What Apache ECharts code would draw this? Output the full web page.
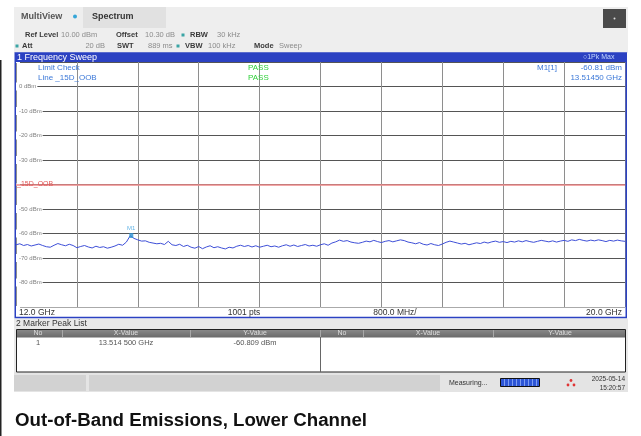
<!DOCTYPE html>
<html><head><meta charset="utf-8">
<script src="https://cdn.jsdelivr.net/npm/echarts@6/dist/echarts.min.js"></script>
<style>html,body{margin:0;padding:0;background:#fff}#c{width:641px;height:436px}</style>
</head><body><div id="c"></div>
<script>
// ---- data ----
const freqStartGHz = 12.0;
const freqStopGHz = 20.0;
const freqStepGHz = 0.05;
const freqDivGHz = 0.8;
const yTickValues = [0, -10, -20, -30, -40, -50, -60, -70, -80];
const traceLevels = [
  -64.6, -64.2, -64.9, -64.5, -65.1, -64.7, -64.3, -64.9,
  -65.4, -65.6, -64.8, -64.1, -64.6, -65.0, -64.4, -64.9,
  -65.8, -65.3, -64.9, -65.5, -65.9, -65.2, -65.7, -65.4,
  -66.0, -65.6, -65.1, -64.4, -64.8, -63.5,
  -60.9,
  -62.0, -62.6, -63.1, -63.0, -63.6, -63.9, -64.2, -64.0, -64.5,
  -63.2,
  -64.6, -64.9, -64.4, -65.3, -64.8, -65.6, -66.0, -65.3, -66.2,
  -65.5, -65.0, -65.8, -65.4, -65.9, -66.3, -65.6, -65.9, -65.2, -64.8,
  -65.3, -64.9, -65.5, -65.0, -65.6, -65.2, -64.8, -65.4, -65.1, -65.6,
  -65.0, -64.6, -65.2, -64.7, -65.3, -64.9, -64.5, -65.1, -64.8, -65.2,
  -64.6, -64.2, -64.8, -63.9, -63.4, -62.7, -63.2, -62.9, -63.5, -63.8,
  -64.0, -63.6, -63.1, -63.4, -62.8, -63.3, -63.7, -63.2, -62.9, -63.4,
  -63.0, -62.6, -62.9, -63.5, -63.8, -64.2, -63.7, -64.4, -64.7, -64.1,
  -64.6, -64.9, -64.3, -63.6, -63.1, -63.5, -63.9, -64.3, -64.0, -64.6,
  -64.2, -63.8, -64.1, -63.5, -63.9, -63.4, -63.1, -63.6, -63.3, -63.7,
  -63.2, -63.5, -63.0, -63.4, -62.9, -63.3, -63.6, -63.2, -62.8, -63.1,
  -63.4, -63.0, -63.5, -63.1, -62.8, -63.2, -62.6, -62.9, -62.4, -62.8,
  -63.1, -62.7, -63.0, -62.6, -62.9, -63.3, -62.8, -63.1, -62.7, -63.0, -63.2
];
const markerFreqGHz = 13.5145;
const markerLevelDbm = -60.81;
const limitLevelDbm = -40;
const limitName = '_15D_OOB';
const captionText = 'Out-of-Band Emissions, Lower Channel';

// ---- build ----
const traceData = traceLevels.map((v, i) => [freqStartGHz + i * freqStepGHz, v]);
const chart = echarts.init(document.getElementById('c'), null, {renderer: 'canvas'});

const UI = 'Liberation Sans, Arial, sans-serif';
const els = [];
function R(x, y, w, h, fill, z, extra) {
  els.push(Object.assign({type: 'rect', shape: {x, y, width: w, height: h}, style: {fill}, z: z === undefined ? -10 : z, silent: true}, extra || {}));
}
function T(x, y, text, o) {
  o = o || {};
  els.push({type: 'text', x, y, z: o.z === undefined ? 100 : o.z, silent: true,
    style: {text, fill: o.color || '#333', font: (o.bold ? 'bold ' : '') + (o.size || 7.5) + 'px ' + (o.family || UI),
      textAlign: o.align || 'left', textVerticalAlign: 'middle'}});
}
function L(x1, y1, x2, y2, color, w, z) {
  els.push({type: 'line', shape: {x1, y1, x2, y2}, style: {stroke: color, lineWidth: w || 1}, z: z === undefined ? 60 : z, silent: true});
}
function C(cx, cy, r, color, z) {
  els.push({type: 'circle', shape: {cx, cy, r}, style: {fill: color}, z: z === undefined ? 100 : z, silent: true});
}

// left dark edge
L(0.75, 60, 0.75, 436, '#222', 1.5, -5);
// top header region
R(14, 7, 614, 46, '#eeeeee');
R(83, 7, 83, 21, '#e1e1e1', -9);
T(21, 17, 'MultiView', {bold: true, size: 9, color: '#555'});
C(75, 16.5, 2, '#35a6d8');
T(92, 17, 'Spectrum', {bold: true, size: 9, color: '#333'});
R(603, 9, 23, 19, '#4a4a4a', -9);
C(614.5, 18.5, 1, '#ddd');
// row 1
const lab = {bold: true, color: '#3a3a3a', size: 7.5};
const val = {color: '#8c8c8c', size: 7.5};
T(25, 35, 'Ref Level', lab); T(61, 35, '10.00 dBm', val);
T(116, 35, 'Offset', lab); T(145, 35, '10.30 dB', val);
R(181.5, 33.5, 3, 3, '#3aa5a5', 100);
T(190, 35, 'RBW', lab); T(217, 35, '30 kHz', val);
// row 2
R(15.5, 44.5, 3, 3, '#3aa5a5', 100);
T(22, 46, 'Att', lab); T(105, 46, '20 dB', Object.assign({align: 'right'}, val));
T(117, 46, 'SWT', lab); T(148, 46, '889 ms', val);
R(176.5, 44.5, 3, 3, '#3aa5a5', 100);
T(185, 46, 'VBW', lab); T(208, 46, '100 kHz', val);
T(254, 46, 'Mode', lab); T(279, 46, 'Sweep', val);

// blue window title bar
R(15, 53, 612, 9, '#2b41c2', 40);
T(17, 57.5, '1 Frequency Sweep', {color: '#ffffff', size: 9});
T(583, 57.5, '\u25CB1Pk Max', {color: '#c4d8ff', size: 7});
// overlay texts in plot
const blue = '#3b78d8';
T(38, 67.5, 'Limit Check', {color: blue, size: 8});
T(38, 77.5, 'Line ' + limitName, {color: blue, size: 8});
T(248, 67.5, 'PASS', {color: '#2fd13a', size: 8});
T(248, 77.5, 'PASS', {color: '#2fd13a', size: 8});
T(537, 68, 'M1[1]', {color: blue, size: 8});
T(622, 68, markerLevelDbm.toFixed(2) + ' dBm', {color: blue, size: 8, align: 'right'});
T(622, 78, markerFreqGHz.toFixed(5) + ' GHz', {color: blue, size: 8, align: 'right'});

// frequency label row
R(15.5, 307.6, 610, 9.5, '#ffffff', 45);
T(19, 312.5, freqStartGHz.toFixed(1) + ' GHz', {size: 8.5, color: '#333'});
T(244, 312.5, '1001 pts', {size: 8.5, color: '#333', align: 'center'});
T(395, 312.5, (freqDivGHz * 1000).toFixed(1) + ' MHz/', {size: 8.5, color: '#333', align: 'center'});
T(622, 312.5, freqStopGHz.toFixed(1) + ' GHz', {size: 8.5, color: '#333', align: 'right'});
// window frame
els.push({type: 'rect', shape: {x: 15.25, y: 53, width: 611, height: 264.5}, style: {fill: 'none', stroke: '#2b41c2', lineWidth: 1.5}, z: 50, silent: true});

// marker peak list
R(14, 318.5, 614, 54, '#e9e9e9');
T(16, 324, '2 Marker Peak List', {size: 8.5, color: '#333'});
R(16, 329, 610, 43, '#ffffff', -8);
els.push({type: 'rect', shape: {x: 16.5, y: 329.5, width: 609, height: 8}, silent: true, z: -7,
  style: {fill: new echarts.graphic.LinearGradient(0, 0, 0, 1, [{offset: 0, color: '#8a8a8a'}, {offset: 1, color: '#6a6a6a'}])}});
els.push({type: 'rect', shape: {x: 16.5, y: 329.5, width: 609, height: 42.5}, style: {fill: 'none', stroke: '#222', lineWidth: 1}, z: 60, silent: true});
[62, 190, 320, 363, 493].forEach(x => L(x + 0.5, 330, x + 0.5, 337, '#a8a8a8', 1));
L(320.5, 337, 320.5, 372, '#666', 1);
const hdr = {size: 7, color: '#dedede', align: 'center'};
T(38, 333.5, 'No', hdr); T(126, 333.5, 'X-Value', hdr); T(255, 333.5, 'Y-Value', hdr);
T(342, 333.5, 'No', hdr); T(428, 333.5, 'X-Value', hdr); T(560, 333.5, 'Y-Value', hdr);
const rowS = {size: 7.5, color: '#555', align: 'center'};
T(38, 343, '1', rowS);
T(126, 343, '13.514 500 GHz', rowS);
T(255, 343, '-60.809 dBm', rowS);

// status bar
R(14, 372, 614, 20, '#e4e4e4');
R(14, 375, 72, 16, '#d2d2d2', -9);
R(89, 375, 351, 16, '#d2d2d2', -9);
T(449, 383, 'Measuring...', {size: 7, color: '#333'});
els.push({type: 'rect', shape: {x: 500.5, y: 378.5, width: 39, height: 8}, style: {fill: '#2c55d6', stroke: '#111', lineWidth: 1}, z: 60, silent: true});
[504, 508, 512, 516, 520, 524, 528, 532, 536].forEach(x => L(x + 0.5, 379, x + 0.5, 386, '#7d9cf0', 1, 61));
C(571, 380.5, 1.4, '#e03434'); C(568, 385, 1.4, '#e03434'); C(574, 385, 1.4, '#e03434');
T(625, 379.5, '2025-05-14', {size: 6.5, color: '#333', align: 'right'});
T(625, 388, '15:20:57', {size: 6.5, color: '#333', align: 'right'});

// caption
T(15, 421, captionText, {bold: true, size: 18.7, color: '#111', z: 100});

const option = {
  animation: false,
  backgroundColor: '#ffffff',
  grid: {left: 16, right: 16, top: 62, height: 245, show: false},
  xAxis: {
    type: 'value', min: freqStartGHz, max: freqStopGHz, interval: freqDivGHz,
    axisLine: {show: false}, axisTick: {show: false}, axisLabel: {show: false},
    splitLine: {show: true, lineStyle: {color: '#8e8e8e', width: 1}}
  },
  yAxis: {
    type: 'value', min: -90, max: 10, interval: 10,
    axisLine: {show: false}, axisTick: {show: false},
    splitLine: {show: true, lineStyle: {color: '#555', width: 1}},
    axisLabel: {
      inside: true, margin: 0, fontSize: 6, color: '#808080', fontFamily: UI,
      backgroundColor: '#ffffff', padding: [1, 1, 1, 3],
      formatter: v => (yTickValues.includes(v) && v !== limitLevelDbm) ? v + ' dBm' : ''
    }
  },
  series: [
    {
      type: 'line', data: traceData, symbol: 'none', z: 3,
      lineStyle: {color: '#3e4fd8', width: 1},
      markLine: {
        silent: true, symbol: 'none', animation: false,
        lineStyle: {color: '#ef8a8a', width: 1.5, type: 'solid'},
        label: {show: false},
        data: [{yAxis: limitLevelDbm}]
      }
    },
    {
      type: 'scatter', data: [[markerFreqGHz, markerLevelDbm]], symbol: 'rect', symbolSize: [4, 5], z: 4,
      itemStyle: {color: '#2d8fd0'},
      label: {show: true, position: 'top', distance: 2, formatter: 'M1', fontSize: 6, color: '#3aa0e0', fontFamily: UI}
    }
  ],
  graphic: {elements: els}
};
chart.setOption(option);
const limPix = chart.convertToPixel({xAxisIndex: 0, yAxisIndex: 0}, [freqStartGHz, limitLevelDbm]);
chart.setOption({graphic: {elements: els.concat([{type: 'text', x: 17, y: limPix[1], z: 100, silent: true,
  style: {text: limitName, fill: '#e25858', font: '7px ' + UI, textAlign: 'left', textVerticalAlign: 'middle'}}])}});
</script>
</body></html>
